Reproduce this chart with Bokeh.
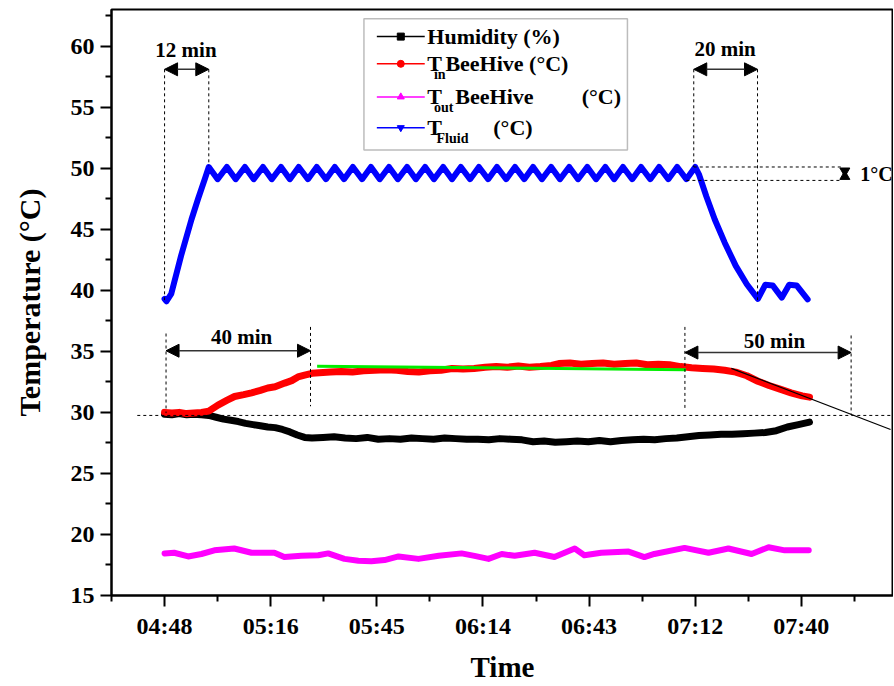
from bokeh.plotting import figure
from bokeh.models import FixedTicker, Range1d, Label, Arrow, NormalHead, BoxAnnotation
from bokeh.embed import file_html
from bokeh.resources import INLINE

FONT = "Liberation Serif"

# ---------------- data (x in minutes after midnight) ----------------
tick_minutes = [288, 316.8, 345.6, 374.4, 403.2, 432, 460.8]
tick_labels = ["04:48", "05:16", "05:45", "06:14", "06:43", "07:12", "07:40"]
minor_minutes = [273.6, 302.4, 331.2, 360, 388.8, 417.6, 446.4, 475.2]
y_ticks = [15, 20, 25, 30, 35, 40, 45, 50, 55, 60]
y_minor = [17.5, 22.5, 27.5, 32.5, 37.5, 42.5, 47.5, 52.5, 57.5, 62.5]

hum_t = [288, 290, 292, 294, 296, 298, 300, 302, 304, 306, 308, 310, 312, 314, 316, 318, 320, 322,
         324, 326, 328, 331, 334, 337, 340, 343, 346, 349, 352, 355, 358, 361, 364, 367, 370, 373,
         376, 379, 382, 385, 388, 391, 394, 397, 400, 403, 406, 409, 412, 415, 418, 421, 424, 427,
         430, 433, 436, 439, 442, 445, 448, 451, 454, 457, 460, 463]
hum_v = [29.85, 29.8, 29.9, 29.8, 29.85, 29.8, 29.75, 29.6, 29.45, 29.35, 29.25, 29.1, 29.0, 28.9,
         28.8, 28.75, 28.6, 28.4, 28.15, 27.95, 27.9, 27.95, 28.0, 27.9, 27.85, 27.95, 27.8, 27.85,
         27.8, 27.9, 27.85, 27.8, 27.9, 27.85, 27.8, 27.8, 27.75, 27.85, 27.8, 27.75, 27.6, 27.65,
         27.55, 27.6, 27.65, 27.6, 27.7, 27.6, 27.7, 27.75, 27.8, 27.75, 27.85, 27.9, 28.0, 28.1,
         28.15, 28.2, 28.2, 28.25, 28.3, 28.35, 28.5, 28.8, 29.0, 29.2]

tin_t = [288, 290, 292, 294, 296, 298, 300, 302.5, 305, 307, 309.5, 311.6, 314, 316, 318, 320.6,
         322.5, 324.2, 326, 328, 330, 333, 336, 339, 342, 345, 348, 351, 354, 357, 360, 363, 366,
         369, 372, 375, 378, 381, 384, 387, 390, 393, 395, 398, 401, 404, 407, 410, 413, 416, 419,
         422, 425, 428, 431, 434, 437, 440, 443, 446, 449, 452, 455, 458, 461, 463]
tin_v = [30.0, 29.95, 30.0, 29.9, 29.95, 30.0, 30.1, 30.6, 31.0, 31.3, 31.45, 31.6, 31.8, 32.0,
         32.1, 32.4, 32.6, 32.9, 33.05, 33.2, 33.25, 33.3, 33.35, 33.3, 33.4, 33.45, 33.5, 33.45,
         33.35, 33.3, 33.4, 33.45, 33.6, 33.55, 33.6, 33.7, 33.75, 33.7, 33.8, 33.7, 33.75, 33.85,
         34.0, 34.05, 33.95, 34.0, 34.05, 33.95, 34.0, 34.05, 33.9, 33.95, 33.9, 33.75, 33.65,
         33.6, 33.55, 33.45, 33.3, 33.0, 32.55, 32.2, 31.9, 31.6, 31.35, 31.25]

tout_t = [288.0, 290.6, 294.4, 298.0, 301.5, 306.9, 311.6, 316.2, 317.8, 320.5, 325.1, 329.7, 332.4,
          336.8, 340.6, 344.1, 347.7, 351.5, 356.9, 362.4, 368.6, 372.1, 375.9, 379.5, 383.0,
          388.4, 393.8, 399.3, 401.9, 406.5, 413.9, 418.2, 420.9, 429.1, 435.6, 441.0, 447.3,
          451.9, 456.3, 462.8]
tout_v = [18.45, 18.5, 18.2, 18.4, 18.7, 18.85, 18.5, 18.5, 18.5, 18.15, 18.25, 18.3, 18.45, 18.0,
          17.85, 17.8, 17.9, 18.2, 18.0, 18.25, 18.45, 18.25, 18.0, 18.4, 18.25, 18.5, 18.15,
          18.85, 18.3, 18.5, 18.6, 18.15, 18.4, 18.9, 18.5, 18.85, 18.4, 18.95, 18.7, 18.7]

fluid_t = [288.0, 288.5, 289.8, 292.5, 295.3, 297.1, 298.9, 300.0,
           302.4, 304.9, 307.3, 309.8, 312.2, 314.7, 317.1, 319.6, 322.0, 324.4, 326.9, 329.3,
           331.8, 334.2, 336.7, 339.1, 341.6, 344.0, 346.4, 348.9, 351.3, 353.8, 356.2, 358.7,
           361.1, 363.6, 366.0, 368.4, 370.9, 373.3, 375.8, 378.2, 380.7, 383.1, 385.6, 388.0,
           390.4, 392.9, 395.3, 397.8, 400.2, 402.7, 405.1, 407.6, 410.0, 412.4, 414.9, 417.3,
           419.8, 422.2, 424.7, 427.1, 429.6, 432.0,
           433.0, 435.0, 437.3, 440.0, 443.0, 446.0, 449.0, 451.0, 453.0, 455.5, 457.5, 459.5, 462.5]
fluid_v = [39.3, 39.1, 39.7, 42.85, 45.8, 47.5, 49.1, 50.1,
           49.1, 50.1, 49.1, 50.1, 49.1, 50.1, 49.1, 50.1, 49.1, 50.1, 49.1, 50.1,
           49.1, 50.1, 49.1, 50.1, 49.1, 50.1, 49.1, 50.1, 49.1, 50.1, 49.1, 50.1,
           49.1, 50.1, 49.1, 50.1, 49.1, 50.1, 49.1, 50.1, 49.1, 50.1, 49.1, 50.1,
           49.1, 50.1, 49.1, 50.1, 49.1, 50.1, 49.1, 50.1, 49.1, 50.1, 49.1, 50.1,
           49.1, 50.1, 49.1, 50.1, 49.1, 50.1,
           49.5, 47.7, 45.8, 43.9, 42.0, 40.5, 39.3, 40.45, 40.4, 39.4, 40.45, 40.4, 39.25]

fit_t = [329.4, 429.5]
fit_v = [33.78, 33.5]
tangent_t = [441.8, 485.0]
tangent_v = [33.6, 28.6]

# ---------------- figure ----------------
p = figure(width=893, height=686, x_range=Range1d(273.6, 485.8), y_range=Range1d(15, 63),
           output_backend="svg", toolbar_location=None,
           min_border_left=111, min_border_right=0, min_border_top=9, min_border_bottom=91)
p.xgrid.visible = False
p.ygrid.visible = False
p.outline_line_color = "black"
p.outline_line_width = 2
p.background_fill_color = "white"

p.xaxis.ticker = FixedTicker(ticks=tick_minutes, minor_ticks=minor_minutes)
p.xaxis.major_label_overrides = {t: l for t, l in zip(tick_minutes, tick_labels)}
p.yaxis.ticker = FixedTicker(ticks=y_ticks, minor_ticks=y_minor)
for ax in (p.xaxis, p.yaxis):
    ax.axis_line_width = 2
    ax.major_tick_line_width = 2
    ax.minor_tick_line_width = 2
    ax.major_tick_in = 0
    ax.major_tick_out = 11
    ax.minor_tick_in = 0
    ax.minor_tick_out = 6
    ax.major_label_text_font = FONT
    ax.major_label_text_font_style = "bold"
    ax.major_label_text_font_size = "24px"
    ax.major_label_text_color = "black"
    ax.axis_label_text_font = FONT
    ax.axis_label_text_font_style = "bold"
    ax.axis_label_text_color = "black"
p.xaxis.major_label_standoff = 6
p.yaxis.major_label_standoff = 6
p.xaxis.axis_label = "Time"
p.xaxis.axis_label_text_font_size = "29px"
p.xaxis.axis_label_standoff = 9
p.yaxis.axis_label = "Temperature (°C)"
p.yaxis.axis_label_text_font_size = "30px"
p.yaxis.axis_label_standoff = 22

# ---------------- series ----------------
p.line(hum_t, hum_v, line_color="black", line_width=7, line_join="round", line_cap="round")
p.line(tin_t, tin_v, line_color="red", line_width=7, line_join="round", line_cap="round")
p.line(tout_t, tout_v, line_color="#ff00ff", line_width=6, line_join="round", line_cap="round")
p.line(fluid_t, fluid_v, line_color="#0000ff", line_width=6, line_join="round", line_cap="round")
p.line(fit_t, fit_v, line_color="#00ee00", line_width=3)
p.line(tangent_t, tangent_v, line_color="black", line_width=1.2)

# ---------------- annotations ----------------
dash_x0 = [288.0, 300.0, 431.6, 448.9, 288.4, 327.6, 429.2, 474.3, 280.6, 431.6, 429.6]
dash_y0 = [58.1, 58.1, 58.1, 58.1, 36.46, 37.0, 37.0, 36.3, 29.75, 50.1, 49.0]
dash_x1 = [288.0, 300.0, 431.6, 448.9, 288.4, 327.6, 429.2, 474.3, 485.4, 471.5, 471.5]
dash_y1 = [39.2, 50.2, 50.1, 39.2, 29.94, 30.5, 30.35, 29.8, 29.75, 50.1, 49.0]
p.segment(dash_x0, dash_y0, dash_x1, dash_y1, line_color="black", line_width=1, line_dash="3 3")

arrows = [(288.0, 300.0, 58.1), (431.6, 448.9, 58.1), (288.4, 327.6, 35.05), (429.2, 474.3, 34.9)]
for xs, xe, ya in arrows:
    p.add_layout(Arrow(start=NormalHead(size=13, fill_color="black", line_color="black"),
                       end=NormalHead(size=13, fill_color="black", line_color="black"),
                       x_start=xs, y_start=ya, x_end=xe, y_end=ya,
                       line_color="#333333", line_width=1.5))

for txt, xx, yy in [("12 min", 293.8, 59.7), ("20 min", 440.1, 59.75),
                    ("40 min", 308.9, 36.2), ("50 min", 453.5, 35.85)]:
    p.add_layout(Label(x=xx, y=yy, text=txt, text_align="center", text_baseline="middle",
                       text_font=FONT, text_font_style="bold", text_font_size="21px",
                       text_color="black"))
p.add_layout(Label(x=476.8, y=49.5, text="1°C", text_align="left", text_baseline="middle",
                   text_font=FONT, text_font_style="bold", text_font_size="20px",
                   text_color="black"))
p.scatter([472.6], [49.78], marker="inverted_triangle", size=10, color="black")
p.scatter([472.6], [49.32], marker="triangle", size=10, color="black")

# ---------------- legend (manual, for subscripts) ----------------
p.add_layout(BoxAnnotation(left=342.1, right=413.6, bottom=51.5, top=62.25,
                           fill_color="white", fill_alpha=1, line_color="#222222",
                           line_width=1.5, level="annotation"))
leg_y = [60.78, 58.55, 55.84, 53.32]
leg_col = ["black", "red", "#ff00ff", "#0000ff"]
leg_mark = ["square", "circle", "triangle", "inverted_triangle"]
for yy, cc, mm in zip(leg_y, leg_col, leg_mark):
    p.line([345.6, 358.6], [yy, yy], line_color=cc, line_width=1.5, level="overlay")
    p.scatter([352.1], [yy], marker=mm, size=7, color=cc, level="overlay")

def lab(x, y, t, size="22px"):
    p.add_layout(Label(x=x, y=y, text=t, text_align="left", text_baseline="middle",
                       text_font=FONT, text_font_style="bold", text_font_size=size,
                       text_color="black", level="overlay"))

lab(359.3, 60.78, "Humidity (%)")
lab(359.3, 58.55, "T")
lab(361.1, 57.7, "in", "14px")
lab(364.2, 58.55, "BeeHive (°C)")
lab(359.3, 55.84, "T")
lab(361.1, 54.95, "out", "14px")
lab(366.9, 55.84, "BeeHive")
lab(401.2, 55.84, "(°C)")
lab(359.3, 53.32, "T")
lab(361.8, 52.4, "Fluid", "14px")
lab(377.2, 53.32, "(°C)")

open("out.html", "w").write(file_html(p, INLINE))
